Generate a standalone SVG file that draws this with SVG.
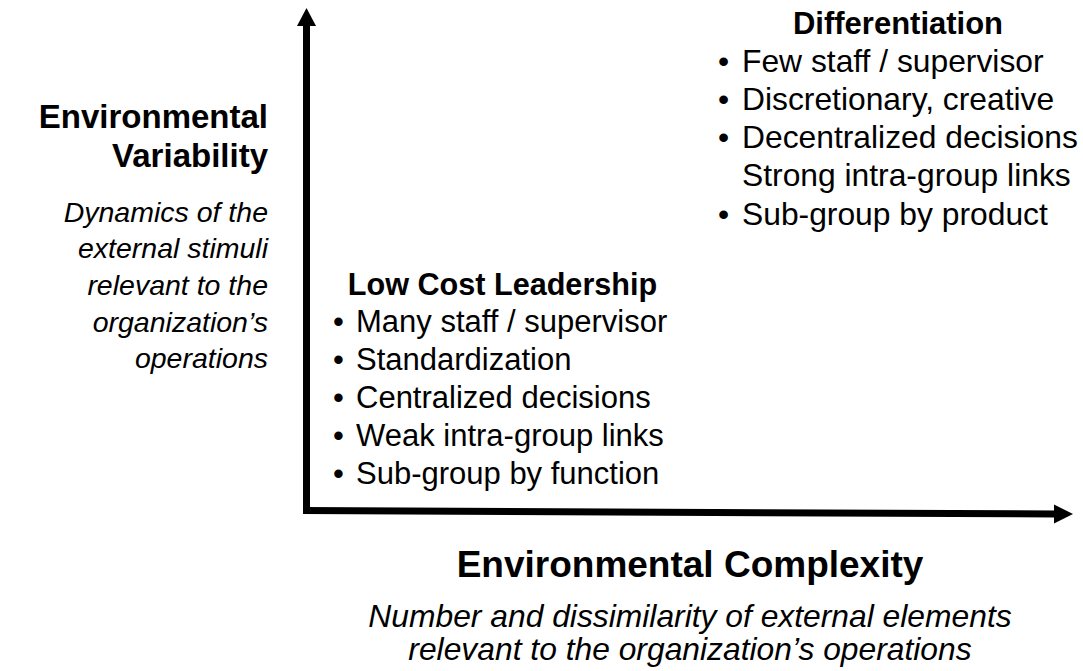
<svg xmlns="http://www.w3.org/2000/svg" width="1083" height="671" viewBox="0 0 1083 671">
<style>
text{font-family:"Liberation Sans",Arial,sans-serif;fill:#000}
.b{font-weight:bold}
.i{font-style:italic}
.r{text-anchor:end}
.m{text-anchor:middle}
.ax{stroke:#000;stroke-width:7;fill:none}
</style>
<rect width="1083" height="671" fill="#fff"/>
<g id="connectors">
<line class="ax" x1="306.5" y1="514" x2="306.5" y2="24"/>
<polygon points="306.5,8 297,26 316,26" fill="#000"/>
<line class="ax" x1="303" y1="510.5" x2="1056" y2="514"/>
<polygon points="1073,514 1054,504.5 1054,523.5" fill="#000"/>
</g>
<g id="y-axis-label">
<text class="b r" x="268" y="128" font-size="33">Environmental</text>
<text class="b r" x="268" y="167" font-size="33">Variability</text>
<text class="i r" x="268" y="222" font-size="28.5">Dynamics of the</text>
<text class="i r" x="268" y="258" font-size="28.5">external stimuli</text>
<text class="i r" x="268" y="295" font-size="28.5">relevant to the</text>
<text class="i r" x="268" y="332" font-size="28.5">organization’s</text>
<text class="i r" x="268" y="368" font-size="28.5">operations</text>
</g>
<g id="x-axis-label">
<text class="b m" x="690" y="577" font-size="37">Environmental Complexity</text>
<text class="i m" x="690" y="627" font-size="31.8">Number and dissimilarity of external elements</text>
<text class="i m" x="690" y="660" font-size="31.8">relevant to the organization’s operations</text>
</g>
<g id="differentiation" font-size="31.8">
<text class="b m" x="898" y="34" font-size="31">Differentiation</text>
<text x="718" y="72">•</text><text x="742" y="72">Few staff / supervisor</text>
<text x="718" y="110">•</text><text x="742" y="110">Discretionary, creative</text>
<text x="718" y="148">•</text><text x="742" y="148">Decentralized decisions</text>
<text x="742" y="186">Strong intra-group links</text>
<text x="718" y="225">•</text><text x="742" y="225">Sub-group by product</text>
</g>
<g id="low-cost-leadership" font-size="31">
<text class="b m" x="502.5" y="295" font-size="30.6">Low Cost Leadership</text>
<text x="333" y="332">•</text><text x="356" y="332">Many staff / supervisor</text>
<text x="333" y="370">•</text><text x="356" y="370">Standardization</text>
<text x="333" y="408">•</text><text x="356" y="408">Centralized decisions</text>
<text x="333" y="446">•</text><text x="356" y="446">Weak intra-group links</text>
<text x="333" y="484">•</text><text x="356" y="484">Sub-group by function</text>
</g>
</svg>
